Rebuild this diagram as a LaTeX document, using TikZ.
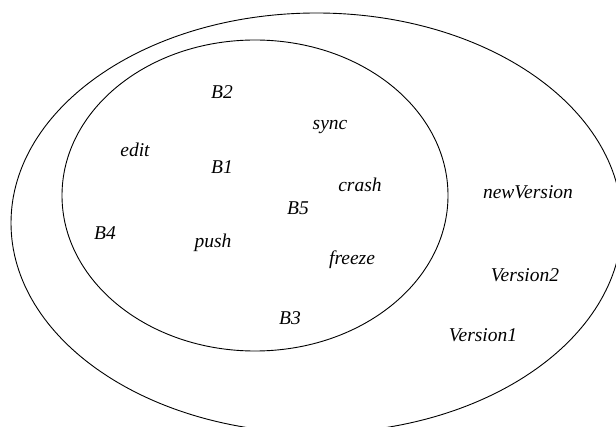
\documentclass[tikz,border=0pt]{standalone}
\usepackage{fontspec}
\setmainfont{Liberation Serif}
\begin{document}
\begin{tikzpicture}[x=1pt,y=-1pt,
  lbl/.style={font=\fontsize{19.5}{22}\selectfont\itshape, inner sep=0pt},
  set/.style={draw=black, line width=0.9pt}]
\useasboundingbox (0,0) rectangle (616,427);
\begin{scope}
\clip (0,0) rectangle (616,427);
\draw[set] (316.5,223) ellipse [x radius=305.5, y radius=210];
\draw[set] (255,195.5) ellipse [x radius=193, y radius=155.5];
\end{scope}
\node[lbl] (B2) at (222,92) {B2};
\node[lbl] (edit) at (135,150) {edit};
\node[lbl] (B1) at (222,167) {B1};
\node[lbl] (B5) at (298,208) {B5};
\node[lbl] (sync) at (330,127) {sync};
\node[lbl] (crash) at (360,185) {crash};
\node[lbl] (newVersion) at (528,192) {newVersion};
\node[lbl] (B4) at (105,233) {B4};
\node[lbl] (push) at (213,243) {push};
\node[lbl] (B3) at (290,318) {B3};
\node[lbl] (freeze) at (352,260) {freeze};
\node[lbl] (Version2) at (525,275) {Version2};
\node[lbl] (Version1) at (483,335) {Version1};
\end{tikzpicture}
\end{document}
